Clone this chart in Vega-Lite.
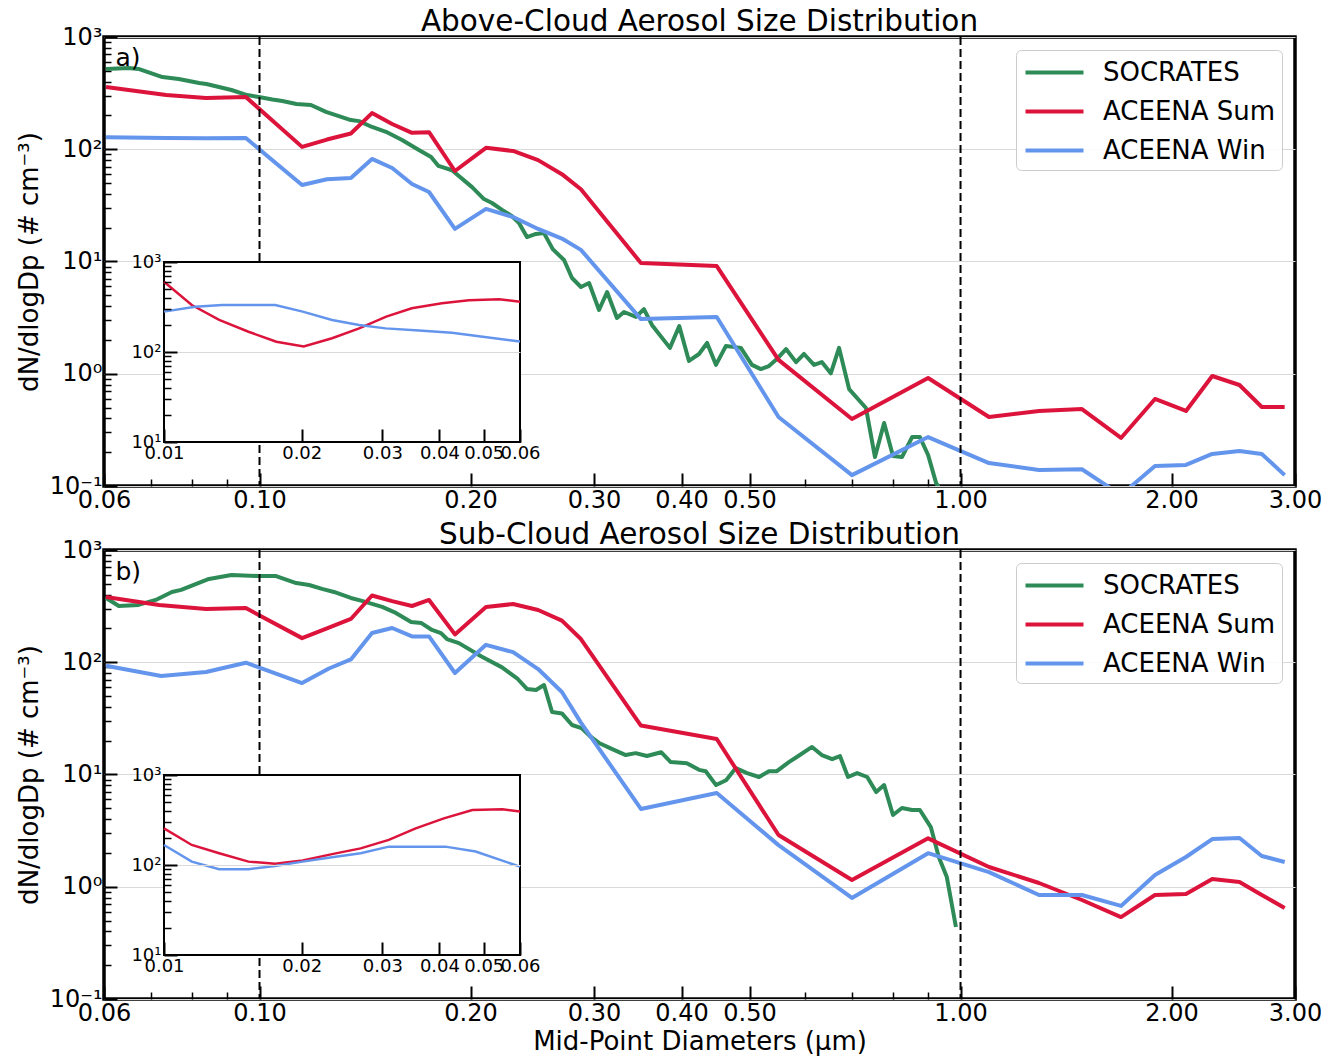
{
  "$schema": "https://vega.github.io/schema/vega-lite/v6.json",
  "background": "white",
  "padding": {"left": 14, "top": 4, "right": 6, "bottom": 0},
  "config": {
    "font": "DejaVu Sans",
    "view": {"stroke": "black", "strokeWidth": 3.5},
    "axis": {"labelFont": "DejaVu Sans", "titleFont": "DejaVu Sans", "labelColor": "black", "titleColor": "black", "titleFontWeight": "normal", "domain": false, "tickColor": "black", "labelOverlap": false, "labelBound": false, "labelFlush": false},
    "title": {"font": "DejaVu Sans", "fontSize": 29.5, "fontWeight": "normal", "color": "black", "anchor": "middle", "offset": -12},
    "legend": {"labelFont": "DejaVu Sans"}
  },
  "datasets": {
    "cutoffs": [{"cutoff": 0.1}, {"cutoff": 1.0}],
    "main_a": [
      {"Dp":0.0604,"N":519,"series":"SOCRATES"},{"Dp":0.0651,"N":529,"series":"SOCRATES"},{"Dp":0.0672,"N":519,"series":"SOCRATES"},{"Dp":0.0727,"N":440,"series":"SOCRATES"},{"Dp":0.0767,"N":423,"series":"SOCRATES"},{"Dp":0.082,"N":389,"series":"SOCRATES"},{"Dp":0.084,"N":381,"series":"SOCRATES"},{"Dp":0.0912,"N":337,"series":"SOCRATES"},{"Dp":0.096,"N":304,"series":"SOCRATES"},{"Dp":0.0998,"N":292,"series":"SOCRATES"},{"Dp":0.1043,"N":277,"series":"SOCRATES"},{"Dp":0.1078,"N":269,"series":"SOCRATES"},{"Dp":0.1129,"N":253,"series":"SOCRATES"},{"Dp":0.1184,"N":248,"series":"SOCRATES"},{"Dp":0.1244,"N":215,"series":"SOCRATES"},{"Dp":0.135,"N":182,"series":"SOCRATES"},{"Dp":0.1387,"N":178,"series":"SOCRATES"},{"Dp":0.1447,"N":158,"series":"SOCRATES"},{"Dp":0.1515,"N":143,"series":"SOCRATES"},{"Dp":0.1597,"N":121,"series":"SOCRATES"},{"Dp":0.1688,"N":98.5,"series":"SOCRATES"},{"Dp":0.1757,"N":85.3,"series":"SOCRATES"},{"Dp":0.18,"N":71,"series":"SOCRATES"},{"Dp":0.1882,"N":65,"series":"SOCRATES"},{"Dp":0.201,"N":46,"series":"SOCRATES"},{"Dp":0.209,"N":36,"series":"SOCRATES"},{"Dp":0.2146,"N":33.2,"series":"SOCRATES"},{"Dp":0.2218,"N":28.8,"series":"SOCRATES"},{"Dp":0.229,"N":25.4,"series":"SOCRATES"},{"Dp":0.2345,"N":22,"series":"SOCRATES"},{"Dp":0.2407,"N":16.5,"series":"SOCRATES"},{"Dp":0.248,"N":17.6,"series":"SOCRATES"},{"Dp":0.2546,"N":17.9,"series":"SOCRATES"},{"Dp":0.262,"N":12.9,"series":"SOCRATES"},{"Dp":0.2719,"N":10.3,"series":"SOCRATES"},{"Dp":0.2791,"N":7.13,"series":"SOCRATES"},{"Dp":0.2874,"N":5.93,"series":"SOCRATES"},{"Dp":0.2952,"N":6.43,"series":"SOCRATES"},{"Dp":0.305,"N":3.7,"series":"SOCRATES"},{"Dp":0.3132,"N":5.35,"series":"SOCRATES"},{"Dp":0.3235,"N":3.14,"series":"SOCRATES"},{"Dp":0.3311,"N":3.55,"series":"SOCRATES"},{"Dp":0.3444,"N":3.21,"series":"SOCRATES"},{"Dp":0.3535,"N":3.77,"series":"SOCRATES"},{"Dp":0.3629,"N":2.72,"series":"SOCRATES"},{"Dp":0.385,"N":1.7,"series":"SOCRATES"},{"Dp":0.397,"N":2.66,"series":"SOCRATES"},{"Dp":0.4098,"N":1.3,"series":"SOCRATES"},{"Dp":0.4236,"N":1.5,"series":"SOCRATES"},{"Dp":0.435,"N":1.88,"series":"SOCRATES"},{"Dp":0.4478,"N":1.2,"series":"SOCRATES"},{"Dp":0.4628,"N":1.77,"series":"SOCRATES"},{"Dp":0.486,"N":1.7,"series":"SOCRATES"},{"Dp":0.504,"N":1.2,"series":"SOCRATES"},{"Dp":0.519,"N":1.1,"series":"SOCRATES"},{"Dp":0.533,"N":1.17,"series":"SOCRATES"},{"Dp":0.547,"N":1.35,"series":"SOCRATES"},{"Dp":0.5637,"N":1.66,"series":"SOCRATES"},{"Dp":0.5826,"N":1.27,"series":"SOCRATES"},{"Dp":0.598,"N":1.5,"series":"SOCRATES"},{"Dp":0.618,"N":1.2,"series":"SOCRATES"},{"Dp":0.634,"N":1.27,"series":"SOCRATES"},{"Dp":0.653,"N":1.01,"series":"SOCRATES"},{"Dp":0.671,"N":1.7,"series":"SOCRATES"},{"Dp":0.6935,"N":0.73,"series":"SOCRATES"},{"Dp":0.733,"N":0.495,"series":"SOCRATES"},{"Dp":0.755,"N":0.181,"series":"SOCRATES"},{"Dp":0.778,"N":0.364,"series":"SOCRATES"},{"Dp":0.801,"N":0.185,"series":"SOCRATES"},{"Dp":0.825,"N":0.181,"series":"SOCRATES"},{"Dp":0.853,"N":0.273,"series":"SOCRATES"},{"Dp":0.875,"N":0.273,"series":"SOCRATES"},{"Dp":0.899,"N":0.189,"series":"SOCRATES"},{"Dp":0.923,"N":0.106,"series":"SOCRATES"},{"Dp":0.947,"N":0.083,"series":"SOCRATES"},
      {"Dp":0.0604,"N":359,"series":"ACEENA Sum"},{"Dp":0.0736,"N":304,"series":"ACEENA Sum"},{"Dp":0.0839,"N":286,"series":"ACEENA Sum"},{"Dp":0.0956,"N":292,"series":"ACEENA Sum"},{"Dp":0.115,"N":105,"series":"ACEENA Sum"},{"Dp":0.1248,"N":122,"series":"ACEENA Sum"},{"Dp":0.135,"N":138,"series":"ACEENA Sum"},{"Dp":0.1447,"N":210,"series":"ACEENA Sum"},{"Dp":0.1546,"N":168,"series":"ACEENA Sum"},{"Dp":0.165,"N":140,"series":"ACEENA Sum"},{"Dp":0.1745,"N":142,"series":"ACEENA Sum"},{"Dp":0.19,"N":64,"series":"ACEENA Sum"},{"Dp":0.2104,"N":103,"series":"ACEENA Sum"},{"Dp":0.23,"N":96.5,"series":"ACEENA Sum"},{"Dp":0.2497,"N":80,"series":"ACEENA Sum"},{"Dp":0.27,"N":60,"series":"ACEENA Sum"},{"Dp":0.2874,"N":44,"series":"ACEENA Sum"},{"Dp":0.35,"N":9.7,"series":"ACEENA Sum"},{"Dp":0.449,"N":9.1,"series":"ACEENA Sum"},{"Dp":0.55,"N":1.33,"series":"ACEENA Sum"},{"Dp":0.7,"N":0.395,"series":"ACEENA Sum"},{"Dp":0.899,"N":0.916,"series":"ACEENA Sum"},{"Dp":1.098,"N":0.412,"series":"ACEENA Sum"},{"Dp":1.294,"N":0.466,"series":"ACEENA Sum"},{"Dp":1.49,"N":0.485,"series":"ACEENA Sum"},{"Dp":1.694,"N":0.268,"series":"ACEENA Sum"},{"Dp":1.894,"N":0.596,"series":"ACEENA Sum"},{"Dp":2.097,"N":0.466,"series":"ACEENA Sum"},{"Dp":2.286,"N":0.955,"series":"ACEENA Sum"},{"Dp":2.5,"N":0.794,"series":"ACEENA Sum"},{"Dp":2.69,"N":0.506,"series":"ACEENA Sum"},{"Dp":2.9,"N":0.506,"series":"ACEENA Sum"},
      {"Dp":0.0604,"N":128,"series":"ACEENA Win"},{"Dp":0.0736,"N":126,"series":"ACEENA Win"},{"Dp":0.0839,"N":125,"series":"ACEENA Win"},{"Dp":0.0956,"N":126,"series":"ACEENA Win"},{"Dp":0.115,"N":48,"series":"ACEENA Win"},{"Dp":0.1248,"N":54,"series":"ACEENA Win"},{"Dp":0.135,"N":55.5,"series":"ACEENA Win"},{"Dp":0.1447,"N":82,"series":"ACEENA Win"},{"Dp":0.1546,"N":68,"series":"ACEENA Win"},{"Dp":0.165,"N":49,"series":"ACEENA Win"},{"Dp":0.1745,"N":41.6,"series":"ACEENA Win"},{"Dp":0.19,"N":19.5,"series":"ACEENA Win"},{"Dp":0.2104,"N":29.4,"series":"ACEENA Win"},{"Dp":0.23,"N":24.9,"series":"ACEENA Win"},{"Dp":0.2497,"N":19.5,"series":"ACEENA Win"},{"Dp":0.27,"N":16,"series":"ACEENA Win"},{"Dp":0.2874,"N":12.7,"series":"ACEENA Win"},{"Dp":0.35,"N":3.07,"series":"ACEENA Win"},{"Dp":0.449,"N":3.2,"series":"ACEENA Win"},{"Dp":0.55,"N":0.412,"series":"ACEENA Win"},{"Dp":0.7,"N":0.125,"series":"ACEENA Win"},{"Dp":0.899,"N":0.273,"series":"ACEENA Win"},{"Dp":1.098,"N":0.16,"series":"ACEENA Win"},{"Dp":1.294,"N":0.139,"series":"ACEENA Win"},{"Dp":1.49,"N":0.141,"series":"ACEENA Win"},{"Dp":1.694,"N":0.083,"series":"ACEENA Win"},{"Dp":1.894,"N":0.151,"series":"ACEENA Win"},{"Dp":2.097,"N":0.154,"series":"ACEENA Win"},{"Dp":2.286,"N":0.193,"series":"ACEENA Win"},{"Dp":2.5,"N":0.205,"series":"ACEENA Win"},{"Dp":2.69,"N":0.193,"series":"ACEENA Win"},{"Dp":2.9,"N":0.125,"series":"ACEENA Win"}
    ],
    "inset_a": [
      {"Dp":0.01,"N":604,"series":"ACEENA Sum"},{"Dp":0.0115,"N":333,"series":"ACEENA Sum"},{"Dp":0.0132,"N":227,"series":"ACEENA Sum"},{"Dp":0.0153,"N":168,"series":"ACEENA Sum"},{"Dp":0.0176,"N":130,"series":"ACEENA Sum"},{"Dp":0.0202,"N":115,"series":"ACEENA Sum"},{"Dp":0.0233,"N":142,"series":"ACEENA Sum"},{"Dp":0.0267,"N":183,"series":"ACEENA Sum"},{"Dp":0.0306,"N":247,"series":"ACEENA Sum"},{"Dp":0.0348,"N":306,"series":"ACEENA Sum"},{"Dp":0.0405,"N":348,"series":"ACEENA Sum"},{"Dp":0.0464,"N":375,"series":"ACEENA Sum"},{"Dp":0.054,"N":385,"series":"ACEENA Sum"},{"Dp":0.06,"N":362,"series":"ACEENA Sum"},
      {"Dp":0.01,"N":281,"series":"ACEENA Win"},{"Dp":0.0117,"N":319,"series":"ACEENA Win"},{"Dp":0.0134,"N":333,"series":"ACEENA Win"},{"Dp":0.0175,"N":333,"series":"ACEENA Win"},{"Dp":0.0201,"N":281,"series":"ACEENA Win"},{"Dp":0.0233,"N":227,"series":"ACEENA Win"},{"Dp":0.0267,"N":200,"series":"ACEENA Win"},{"Dp":0.0305,"N":183,"series":"ACEENA Win"},{"Dp":0.0361,"N":173,"series":"ACEENA Win"},{"Dp":0.0426,"N":164,"series":"ACEENA Win"},{"Dp":0.0488,"N":150,"series":"ACEENA Win"},{"Dp":0.06,"N":131,"series":"ACEENA Win"}
    ],
    "main_b": [
      {"Dp":0.0604,"N":374,"series":"SOCRATES"},{"Dp":0.063,"N":317,"series":"SOCRATES"},{"Dp":0.0672,"N":324,"series":"SOCRATES"},{"Dp":0.0711,"N":359,"series":"SOCRATES"},{"Dp":0.075,"N":423,"series":"SOCRATES"},{"Dp":0.0773,"N":441,"series":"SOCRATES"},{"Dp":0.0847,"N":552,"series":"SOCRATES"},{"Dp":0.0912,"N":598,"series":"SOCRATES"},{"Dp":0.0998,"N":586,"series":"SOCRATES"},{"Dp":0.1056,"N":586,"series":"SOCRATES"},{"Dp":0.1128,"N":508,"series":"SOCRATES"},{"Dp":0.1177,"N":488,"series":"SOCRATES"},{"Dp":0.1228,"N":450,"series":"SOCRATES"},{"Dp":0.1277,"N":423,"series":"SOCRATES"},{"Dp":0.135,"N":374,"series":"SOCRATES"},{"Dp":0.14,"N":352,"series":"SOCRATES"},{"Dp":0.1496,"N":311,"series":"SOCRATES"},{"Dp":0.1565,"N":275,"series":"SOCRATES"},{"Dp":0.1645,"N":228,"series":"SOCRATES"},{"Dp":0.17,"N":224,"series":"SOCRATES"},{"Dp":0.1762,"N":194,"series":"SOCRATES"},{"Dp":0.1815,"N":182,"series":"SOCRATES"},{"Dp":0.1851,"N":161,"series":"SOCRATES"},{"Dp":0.1925,"N":148,"series":"SOCRATES"},{"Dp":0.207,"N":113,"series":"SOCRATES"},{"Dp":0.2218,"N":90,"series":"SOCRATES"},{"Dp":0.233,"N":72,"series":"SOCRATES"},{"Dp":0.2407,"N":57.8,"series":"SOCRATES"},{"Dp":0.248,"N":56.6,"series":"SOCRATES"},{"Dp":0.2546,"N":62.7,"series":"SOCRATES"},{"Dp":0.2614,"N":36,"series":"SOCRATES"},{"Dp":0.27,"N":35,"series":"SOCRATES"},{"Dp":0.2791,"N":27.6,"series":"SOCRATES"},{"Dp":0.288,"N":25.9,"series":"SOCRATES"},{"Dp":0.297,"N":21.6,"series":"SOCRATES"},{"Dp":0.305,"N":19.1,"series":"SOCRATES"},{"Dp":0.318,"N":16.9,"series":"SOCRATES"},{"Dp":0.333,"N":14.9,"series":"SOCRATES"},{"Dp":0.344,"N":15.5,"series":"SOCRATES"},{"Dp":0.357,"N":14.6,"series":"SOCRATES"},{"Dp":0.374,"N":15.8,"series":"SOCRATES"},{"Dp":0.386,"N":12.9,"series":"SOCRATES"},{"Dp":0.407,"N":12.6,"series":"SOCRATES"},{"Dp":0.4236,"N":11,"series":"SOCRATES"},{"Dp":0.433,"N":10.7,"series":"SOCRATES"},{"Dp":0.448,"N":8.05,"series":"SOCRATES"},{"Dp":0.463,"N":8.9,"series":"SOCRATES"},{"Dp":0.478,"N":11.4,"series":"SOCRATES"},{"Dp":0.496,"N":10.3,"series":"SOCRATES"},{"Dp":0.516,"N":9.5,"series":"SOCRATES"},{"Dp":0.533,"N":10.7,"series":"SOCRATES"},{"Dp":0.547,"N":10.7,"series":"SOCRATES"},{"Dp":0.569,"N":12.9,"series":"SOCRATES"},{"Dp":0.584,"N":14.3,"series":"SOCRATES"},{"Dp":0.614,"N":17.6,"series":"SOCRATES"},{"Dp":0.634,"N":14.9,"series":"SOCRATES"},{"Dp":0.656,"N":13.7,"series":"SOCRATES"},{"Dp":0.673,"N":14.6,"series":"SOCRATES"},{"Dp":0.691,"N":9.5,"series":"SOCRATES"},{"Dp":0.712,"N":10.3,"series":"SOCRATES"},{"Dp":0.736,"N":9.5,"series":"SOCRATES"},{"Dp":0.758,"N":6.98,"series":"SOCRATES"},{"Dp":0.778,"N":8.05,"series":"SOCRATES"},{"Dp":0.801,"N":4.36,"series":"SOCRATES"},{"Dp":0.825,"N":5.03,"series":"SOCRATES"},{"Dp":0.853,"N":4.83,"series":"SOCRATES"},{"Dp":0.875,"N":4.83,"series":"SOCRATES"},{"Dp":0.907,"N":3.4,"series":"SOCRATES"},{"Dp":0.931,"N":1.84,"series":"SOCRATES"},{"Dp":0.956,"N":1.22,"series":"SOCRATES"},{"Dp":0.985,"N":0.438,"series":"SOCRATES"},
      {"Dp":0.0604,"N":381,"series":"ACEENA Sum"},{"Dp":0.0719,"N":324,"series":"ACEENA Sum"},{"Dp":0.0839,"N":298,"series":"ACEENA Sum"},{"Dp":0.0956,"N":304,"series":"ACEENA Sum"},{"Dp":0.115,"N":164,"series":"ACEENA Sum"},{"Dp":0.1248,"N":200,"series":"ACEENA Sum"},{"Dp":0.135,"N":243,"series":"ACEENA Sum"},{"Dp":0.1447,"N":393,"series":"ACEENA Sum"},{"Dp":0.1546,"N":350,"series":"ACEENA Sum"},{"Dp":0.165,"N":317,"series":"ACEENA Sum"},{"Dp":0.1745,"N":359,"series":"ACEENA Sum"},{"Dp":0.19,"N":177,"series":"ACEENA Sum"},{"Dp":0.2104,"N":311,"series":"ACEENA Sum"},{"Dp":0.23,"N":330,"series":"ACEENA Sum"},{"Dp":0.2497,"N":292,"series":"ACEENA Sum"},{"Dp":0.27,"N":235,"series":"ACEENA Sum"},{"Dp":0.2874,"N":161,"series":"ACEENA Sum"},{"Dp":0.35,"N":27.3,"series":"ACEENA Sum"},{"Dp":0.449,"N":20.7,"series":"ACEENA Sum"},{"Dp":0.55,"N":2.89,"series":"ACEENA Sum"},{"Dp":0.7,"N":1.15,"series":"ACEENA Sum"},{"Dp":0.899,"N":2.7,"series":"ACEENA Sum"},{"Dp":1.098,"N":1.5,"series":"ACEENA Sum"},{"Dp":1.294,"N":1.08,"series":"ACEENA Sum"},{"Dp":1.49,"N":0.762,"series":"ACEENA Sum"},{"Dp":1.694,"N":0.537,"series":"ACEENA Sum"},{"Dp":1.894,"N":0.845,"series":"ACEENA Sum"},{"Dp":2.097,"N":0.862,"series":"ACEENA Sum"},{"Dp":2.286,"N":1.17,"series":"ACEENA Sum"},{"Dp":2.5,"N":1.1,"series":"ACEENA Sum"},{"Dp":2.69,"N":0.845,"series":"ACEENA Sum"},{"Dp":2.9,"N":0.647,"series":"ACEENA Sum"},
      {"Dp":0.0604,"N":93,"series":"ACEENA Win"},{"Dp":0.0724,"N":75.4,"series":"ACEENA Win"},{"Dp":0.0839,"N":81.8,"series":"ACEENA Win"},{"Dp":0.0956,"N":99,"series":"ACEENA Win"},{"Dp":0.115,"N":65.3,"series":"ACEENA Win"},{"Dp":0.1256,"N":88,"series":"ACEENA Win"},{"Dp":0.135,"N":106,"series":"ACEENA Win"},{"Dp":0.1447,"N":182,"series":"ACEENA Win"},{"Dp":0.1546,"N":202,"series":"ACEENA Win"},{"Dp":0.165,"N":170,"series":"ACEENA Win"},{"Dp":0.1745,"N":170,"series":"ACEENA Win"},{"Dp":0.19,"N":80.2,"series":"ACEENA Win"},{"Dp":0.2104,"N":143,"series":"ACEENA Win"},{"Dp":0.23,"N":123,"series":"ACEENA Win"},{"Dp":0.2497,"N":87,"series":"ACEENA Win"},{"Dp":0.27,"N":54.3,"series":"ACEENA Win"},{"Dp":0.2874,"N":29,"series":"ACEENA Win"},{"Dp":0.35,"N":4.93,"series":"ACEENA Win"},{"Dp":0.449,"N":6.84,"series":"ACEENA Win"},{"Dp":0.55,"N":2.35,"series":"ACEENA Win"},{"Dp":0.7,"N":0.794,"series":"ACEENA Win"},{"Dp":0.899,"N":1.99,"series":"ACEENA Win"},{"Dp":1.098,"N":1.35,"series":"ACEENA Win"},{"Dp":1.294,"N":0.845,"series":"ACEENA Win"},{"Dp":1.49,"N":0.845,"series":"ACEENA Win"},{"Dp":1.694,"N":0.675,"series":"ACEENA Win"},{"Dp":1.894,"N":1.27,"series":"ACEENA Win"},{"Dp":2.097,"N":1.84,"series":"ACEENA Win"},{"Dp":2.286,"N":2.66,"series":"ACEENA Win"},{"Dp":2.5,"N":2.72,"series":"ACEENA Win"},{"Dp":2.69,"N":1.88,"series":"ACEENA Win"},{"Dp":2.9,"N":1.66,"series":"ACEENA Win"}
    ],
    "inset_b": [
      {"Dp":0.01,"N":255,"series":"ACEENA Sum"},{"Dp":0.0115,"N":167,"series":"ACEENA Sum"},{"Dp":0.0132,"N":135,"series":"ACEENA Sum"},{"Dp":0.0153,"N":109,"series":"ACEENA Sum"},{"Dp":0.0175,"N":103,"series":"ACEENA Sum"},{"Dp":0.0201,"N":112,"series":"ACEENA Sum"},{"Dp":0.0233,"N":132,"series":"ACEENA Sum"},{"Dp":0.0269,"N":153,"series":"ACEENA Sum"},{"Dp":0.031,"N":190,"series":"ACEENA Sum"},{"Dp":0.0355,"N":255,"series":"ACEENA Sum"},{"Dp":0.0409,"N":330,"series":"ACEENA Sum"},{"Dp":0.0472,"N":408,"series":"ACEENA Sum"},{"Dp":0.0549,"N":416,"series":"ACEENA Sum"},{"Dp":0.06,"N":392,"series":"ACEENA Sum"},
      {"Dp":0.01,"N":167,"series":"ACEENA Win"},{"Dp":0.0115,"N":109,"series":"ACEENA Win"},{"Dp":0.0132,"N":89.6,"series":"ACEENA Win"},{"Dp":0.0153,"N":89.6,"series":"ACEENA Win"},{"Dp":0.0175,"N":97.5,"series":"ACEENA Win"},{"Dp":0.0201,"N":109,"series":"ACEENA Win"},{"Dp":0.0233,"N":122,"series":"ACEENA Win"},{"Dp":0.0269,"N":135,"series":"ACEENA Win"},{"Dp":0.031,"N":160,"series":"ACEENA Win"},{"Dp":0.0412,"N":160,"series":"ACEENA Win"},{"Dp":0.048,"N":141,"series":"ACEENA Win"},{"Dp":0.06,"N":95.8,"series":"ACEENA Win"}
    ]
  },
  "spacing": 64,
  "bounds": "flush",
  "resolve": {"legend": {"color": "independent"}},
  "vconcat": [
    {
      "title": {"text": "Above-Cloud Aerosol Size Distribution"},
      "width": 1191,
      "height": 449,
      "resolve": {"scale": {"x": "independent", "y": "independent"}},
      "layer": [
        {
          "layer": [
            {
              "data": {"name": "main_a"},
              "mark": {"type": "line", "strokeWidth": 4, "clip": true, "strokeJoin": "round"},
              "encoding": {
                "x": {"field": "Dp", "type": "quantitative",
                  "scale": {"type": "log", "domain": [0.06, 3], "nice": false},
                  "axis": {"title": null, "orient": "bottom", "values": [0.06,0.07,0.08,0.09,0.1,0.2,0.3,0.4,0.5,0.6,0.7,0.8,0.9,1,2,3],
                    "labelExpr": "indexof([0.06,0.1,0.2,0.3,0.4,0.5,1,2,3], datum.value) >= 0 ? format(datum.value, '.2f') : ''",
                    "labelFontSize": 24, "labelPadding": 15, "grid": false,
                    "tickSize": {"condition": {"test": "indexof([0.06,0.1,0.2,0.3,0.4,0.5,1,2,3], datum.value) >= 0", "value": -13}, "value": -7},
                    "tickWidth": {"condition": {"test": "indexof([0.06,0.1,0.2,0.3,0.4,0.5,1,2,3], datum.value) >= 0", "value": 2}, "value": 1.5}}},
                "y": {"field": "N", "type": "quantitative",
                  "scale": {"type": "log", "domain": [0.1, 1000], "nice": false},
                  "axis": {"title": "dN/dlogDp (# cm⁻³)", "orient": "left", "titleFontSize": 26, "titlePadding": 7,
                    "values": [0.1,0.2,0.3,0.4,0.5,0.6,0.7,0.8,0.9,1,2,3,4,5,6,7,8,9,10,20,30,40,50,60,70,80,90,100,200,300,400,500,600,700,800,900,1000],
                    "labelExpr": "datum.value == 1000 ? '10³' : datum.value == 100 ? '10²' : datum.value == 10 ? '10¹' : datum.value == 1 ? '10⁰' : datum.value == 0.1 ? '10⁻¹' : ''",
                    "labelFontSize": 24, "labelPadding": 15,
                    "grid": true, "gridColor": "#d9d9d9", "gridWidth": 1,
                    "gridOpacity": {"condition": {"test": "indexof([0.1,1,10,100,1000], datum.value) >= 0", "value": 1}, "value": 0},
                    "tickSize": {"condition": {"test": "indexof([0.1,1,10,100,1000], datum.value) >= 0", "value": -13}, "value": -7},
                    "tickWidth": {"condition": {"test": "indexof([0.1,1,10,100,1000], datum.value) >= 0", "value": 2}, "value": 1.5}}},
                "color": {"field": "series", "type": "nominal",
                  "scale": {"domain": ["SOCRATES", "ACEENA Sum", "ACEENA Win"], "range": ["#2e8b57", "#dc143c", "#6495ed"]},
                  "legend": {"title": null, "orient": "top-right", "offset": 13, "symbolType": "M-2,0L2,0", "symbolSize": 841, "symbolStrokeWidth": 4, "symbolOffset": 16, "labelFontSize": 26, "labelOffset": 32, "rowPadding": 9, "padding": 6, "strokeColor": "#cccccc", "fillColor": "rgba(255,255,255,0.85)", "cornerRadius": 5, "labelLimit": 400}}
              }
            },
            {
              "data": {"name": "cutoffs"},
              "mark": {"type": "rule", "strokeDash": [8, 4], "strokeWidth": 2, "color": "black"},
              "encoding": {"x": {"field": "cutoff", "type": "quantitative"}}
            },
            {
              "data": {"values": [{"label": "a)"}]},
              "mark": {"type": "text", "align": "left", "baseline": "middle", "fontSize": 25, "color": "black"},
              "encoding": {"x": {"datum": 0.0623}, "y": {"datum": 650}, "text": {"field": "label"}}
            }
          ]
        },
        {
          "layer": [
            {
              "data": {"values": [{}]},
              "mark": {"type": "rect", "fill": "white", "stroke": "black", "strokeWidth": 2},
              "encoding": {
                "x": {"datum": 0.01, "type": "quantitative",
                  "scale": {"type": "log", "domain": [0.01, 0.06], "range": [60, 416], "nice": false},
                  "axis": {"title": null, "orient": "bottom", "zindex": 1, "offset": -44, "values": [0.01,0.02,0.03,0.04,0.05,0.06], "format": ".2f", "labelFontSize": 18, "labelPadding": 15, "tickSize": -13, "tickWidth": 2, "grid": false}},
                "x2": {"datum": 0.06},
                "y": {"datum": 10, "type": "quantitative",
                  "scale": {"type": "log", "domain": [10, 1000], "range": [405, 225], "nice": false},
                  "axis": {"title": null, "orient": "left", "zindex": 1, "offset": -60,
                    "values": [10,20,30,40,50,60,70,80,90,100,200,300,400,500,600,700,800,900,1000],
                    "labelExpr": "datum.value == 1000 ? '10³' : datum.value == 100 ? '10²' : datum.value == 10 ? '10¹' : ''",
                    "labelFontSize": 18, "labelPadding": 16,
                    "grid": true, "gridColor": "#d9d9d9", "gridWidth": 1,
                    "gridOpacity": {"condition": {"test": "datum.value == 100", "value": 1}, "value": 0},
                    "tickSize": {"condition": {"test": "indexof([10,100,1000], datum.value) >= 0", "value": -13}, "value": -7},
                    "tickWidth": {"condition": {"test": "indexof([10,100,1000], datum.value) >= 0", "value": 2}, "value": 1.5}}},
                "y2": {"datum": 1000}
              }
            },
            {
              "data": {"name": "inset_a"},
              "mark": {"type": "line", "strokeWidth": 2.5},
              "encoding": {
                "x": {"field": "Dp", "type": "quantitative"},
                "y": {"field": "N", "type": "quantitative"},
                "color": {"field": "series", "type": "nominal"}
              }
            }
          ]
        }
      ]
    },
    {
      "title": {"text": "Sub-Cloud Aerosol Size Distribution"},
      "width": 1191,
      "height": 449,
      "resolve": {"scale": {"x": "independent", "y": "independent"}},
      "layer": [
        {
          "layer": [
            {
              "data": {"name": "main_b"},
              "mark": {"type": "line", "strokeWidth": 4, "clip": true, "strokeJoin": "round"},
              "encoding": {
                "x": {"field": "Dp", "type": "quantitative",
                  "scale": {"type": "log", "domain": [0.06, 3], "nice": false},
                  "axis": {"title": "Mid-Point Diameters (μm)", "orient": "bottom", "titleFontSize": 26, "titlePadding": -3, "values": [0.06,0.07,0.08,0.09,0.1,0.2,0.3,0.4,0.5,0.6,0.7,0.8,0.9,1,2,3],
                    "labelExpr": "indexof([0.06,0.1,0.2,0.3,0.4,0.5,1,2,3], datum.value) >= 0 ? format(datum.value, '.2f') : ''",
                    "labelFontSize": 24, "labelPadding": 15, "grid": false,
                    "tickSize": {"condition": {"test": "indexof([0.06,0.1,0.2,0.3,0.4,0.5,1,2,3], datum.value) >= 0", "value": -13}, "value": -7},
                    "tickWidth": {"condition": {"test": "indexof([0.06,0.1,0.2,0.3,0.4,0.5,1,2,3], datum.value) >= 0", "value": 2}, "value": 1.5}}},
                "y": {"field": "N", "type": "quantitative",
                  "scale": {"type": "log", "domain": [0.1, 1000], "nice": false},
                  "axis": {"title": "dN/dlogDp (# cm⁻³)", "orient": "left", "titleFontSize": 26, "titlePadding": 7,
                    "values": [0.1,0.2,0.3,0.4,0.5,0.6,0.7,0.8,0.9,1,2,3,4,5,6,7,8,9,10,20,30,40,50,60,70,80,90,100,200,300,400,500,600,700,800,900,1000],
                    "labelExpr": "datum.value == 1000 ? '10³' : datum.value == 100 ? '10²' : datum.value == 10 ? '10¹' : datum.value == 1 ? '10⁰' : datum.value == 0.1 ? '10⁻¹' : ''",
                    "labelFontSize": 24, "labelPadding": 15,
                    "grid": true, "gridColor": "#d9d9d9", "gridWidth": 1,
                    "gridOpacity": {"condition": {"test": "indexof([0.1,1,10,100,1000], datum.value) >= 0", "value": 1}, "value": 0},
                    "tickSize": {"condition": {"test": "indexof([0.1,1,10,100,1000], datum.value) >= 0", "value": -13}, "value": -7},
                    "tickWidth": {"condition": {"test": "indexof([0.1,1,10,100,1000], datum.value) >= 0", "value": 2}, "value": 1.5}}},
                "color": {"field": "series", "type": "nominal",
                  "scale": {"domain": ["SOCRATES", "ACEENA Sum", "ACEENA Win"], "range": ["#2e8b57", "#dc143c", "#6495ed"]},
                  "legend": {"title": null, "orient": "top-right", "offset": 13, "symbolType": "M-2,0L2,0", "symbolSize": 841, "symbolStrokeWidth": 4, "symbolOffset": 16, "labelFontSize": 26, "labelOffset": 32, "rowPadding": 9, "padding": 6, "strokeColor": "#cccccc", "fillColor": "rgba(255,255,255,0.85)", "cornerRadius": 5, "labelLimit": 400}}
              }
            },
            {
              "data": {"name": "cutoffs"},
              "mark": {"type": "rule", "strokeDash": [8, 4], "strokeWidth": 2, "color": "black"},
              "encoding": {"x": {"field": "cutoff", "type": "quantitative"}}
            },
            {
              "data": {"values": [{"label": "b)"}]},
              "mark": {"type": "text", "align": "left", "baseline": "middle", "fontSize": 25, "color": "black"},
              "encoding": {"x": {"datum": 0.0623}, "y": {"datum": 640}, "text": {"field": "label"}}
            }
          ]
        },
        {
          "layer": [
            {
              "data": {"values": [{}]},
              "mark": {"type": "rect", "fill": "white", "stroke": "black", "strokeWidth": 2},
              "encoding": {
                "x": {"datum": 0.01, "type": "quantitative",
                  "scale": {"type": "log", "domain": [0.01, 0.06], "range": [60, 416], "nice": false},
                  "axis": {"title": null, "orient": "bottom", "zindex": 1, "offset": -44, "values": [0.01,0.02,0.03,0.04,0.05,0.06], "format": ".2f", "labelFontSize": 18, "labelPadding": 15, "tickSize": -13, "tickWidth": 2, "grid": false}},
                "x2": {"datum": 0.06},
                "y": {"datum": 10, "type": "quantitative",
                  "scale": {"type": "log", "domain": [10, 1000], "range": [405, 225], "nice": false},
                  "axis": {"title": null, "orient": "left", "zindex": 1, "offset": -60,
                    "values": [10,20,30,40,50,60,70,80,90,100,200,300,400,500,600,700,800,900,1000],
                    "labelExpr": "datum.value == 1000 ? '10³' : datum.value == 100 ? '10²' : datum.value == 10 ? '10¹' : ''",
                    "labelFontSize": 18, "labelPadding": 16,
                    "grid": true, "gridColor": "#d9d9d9", "gridWidth": 1,
                    "gridOpacity": {"condition": {"test": "datum.value == 100", "value": 1}, "value": 0},
                    "tickSize": {"condition": {"test": "indexof([10,100,1000], datum.value) >= 0", "value": -13}, "value": -7},
                    "tickWidth": {"condition": {"test": "indexof([10,100,1000], datum.value) >= 0", "value": 2}, "value": 1.5}}},
                "y2": {"datum": 1000}
              }
            },
            {
              "data": {"name": "inset_b"},
              "mark": {"type": "line", "strokeWidth": 2.5},
              "encoding": {
                "x": {"field": "Dp", "type": "quantitative"},
                "y": {"field": "N", "type": "quantitative"},
                "color": {"field": "series", "type": "nominal"}
              }
            }
          ]
        }
      ]
    }
  ]
}
